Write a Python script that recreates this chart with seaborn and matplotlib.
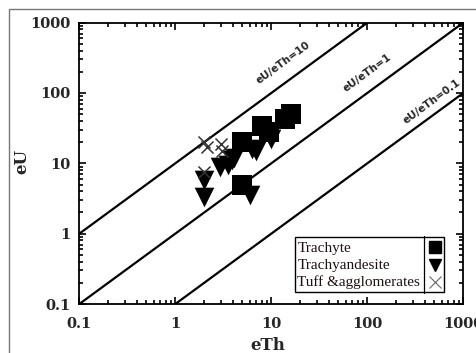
import numpy as np
import pandas as pd
import matplotlib
matplotlib.use("Agg")
import matplotlib.pyplot as plt
import seaborn as sns
from matplotlib.patches import Rectangle
from matplotlib.lines import Line2D

# ---- data ----
trachyte_th = [5.0, 5.0, 8.0, 9.5, 14.0, 16.0]
trachyte_u = [20.0, 4.9, 34.0, 28.0, 43.0, 50.0]

trachyand_th = [2.0, 2.0, 2.9, 3.5, 3.9, 4.1, 6.0, 6.3, 7.0, 10.0, 9.5]
trachyand_u = [5.8, 3.3, 9.0, 9.5, 11.0, 12.0, 3.6, 16.0, 15.0, 22.5, 26.0]

tuff_th = [2.0, 2.15, 3.0, 3.05, 2.0]
tuff_u = [20.0, 17.0, 19.0, 15.0, 7.5]

ratio_values = [10, 1, 0.1]
ratio_labels = ["eU/eTh=10", "eU/eTh=1", "eU/eTh=0.1"]
label_pos_th = [17.0, 125.0, 560.0]

legend_labels = ["Trachyte", "Trachyandesite", "Tuff &agglomerates"]

ticks = [0.1, 1, 10, 100, 1000]
tick_labels = ["0.1", "1", "10", "100", "1000"]

sns.set_theme(style="ticks")
plt.rcParams['font.family'] = ['DejaVu Serif', 'Liberation Serif']

fig = plt.figure(figsize=(4.76, 3.53), dpi=100)
ax = fig.add_axes([0.1666, 0.1388, 0.8067, 0.797])

df_t = pd.DataFrame({"eTh": trachyte_th, "eU": trachyte_u})
df_a = pd.DataFrame({"eTh": trachyand_th, "eU": trachyand_u})
df_x = pd.DataFrame({"eTh": tuff_th, "eU": tuff_u})

# reference lines
xx = np.array([0.1, 1000.0])
for r in ratio_values:
    ax.plot(xx, xx * r, color="black", lw=1.6, zorder=1)

sns.scatterplot(data=df_t, x="eTh", y="eU", marker="s", s=190, color="black",
                edgecolor="black", linewidth=0, ax=ax, zorder=3)
sns.scatterplot(data=df_a, x="eTh", y="eU", marker="v", s=200, color="black",
                edgecolor="black", linewidth=0, ax=ax, zorder=3)
sns.scatterplot(data=df_x, x="eTh", y="eU", marker="x", s=75, color="#333333",
                linewidth=1.1, ax=ax, zorder=4)

ax.set_xscale("log")
ax.set_yscale("log")
ax.set_xlim(0.1, 1000)
ax.set_ylim(0.1, 1000)

ax.set_xticks(ticks)
ax.set_xticklabels(tick_labels)
ax.set_yticks(ticks)
ax.set_yticklabels(tick_labels)
ax.tick_params(which="both", direction="in", top=True, right=True, width=1.2, color="black")
ax.tick_params(which="major", length=5, labelsize=10.5)
ax.tick_params(axis="x", which="major", pad=9)
ax.tick_params(axis="y", which="major", pad=6)
ax.tick_params(which="minor", length=3)
for lab in ax.get_xticklabels() + ax.get_yticklabels():
    lab.set_fontweight("bold")
for sp in ax.spines.values():
    sp.set_linewidth(1.3)
    sp.set_color("black")

ax.set_xlabel("eTh", fontsize=12, fontweight="bold")
ax.set_ylabel("eU", fontsize=12, fontweight="bold")
ax.xaxis.set_label_coords(0.49, -0.118)
ax.yaxis.set_label_coords(-0.128, 0.505)
ax.grid(False)

# rotated line labels
fig.canvas.draw()
p1 = ax.transData.transform((1, 1))
p2 = ax.transData.transform((10, 10))
angle = np.degrees(np.arctan2(p2[1] - p1[1], p2[0] - p1[0]))
offsets = [(-5, 7), (-5, 7), (-3, 4)]
for r, lab, xth, off in zip(ratio_values, ratio_labels, label_pos_th, offsets):
    ax.annotate(lab, xy=(xth, xth * r), xytext=off, textcoords="offset points",
                rotation=angle, rotation_mode="anchor", ha="center", va="bottom",
                fontsize=7.5, fontweight="bold", family=["DejaVu Sans"])

# legend box drawn manually (text left, markers right)
tr = ax.transAxes
ax.add_patch(Rectangle((0.561, 0.0416), 0.3895, 0.1954, transform=tr, fill=True,
                       facecolor="white", edgecolor="black", linewidth=1.0, zorder=5))
ax.add_line(Line2D([0.898, 0.898], [0.038, 0.241], transform=tr, color="black",
                   lw=0.9, zorder=6))
rows_y = [0.197, 0.138, 0.079]
for lab, yy in zip(legend_labels, rows_y):
    ax.text(0.5677, yy, lab, transform=tr, ha="left", va="center", fontsize=11,
            family=["Liberation Serif"], color="#201010", zorder=6)
ax.plot([0.926], [rows_y[0] + 0.005], transform=tr, marker="s", color="black",
        markersize=9, linestyle="none", zorder=6)
ax.plot([0.926], [rows_y[1]], transform=tr, marker="v", color="black",
        markersize=9, linestyle="none", zorder=6)
ax.plot([0.926], [rows_y[2]], transform=tr, marker="x", color="#666666",
        markersize=9, markeredgewidth=0.8, linestyle="none", zorder=6)

# outer frame
fig.patches.append(Rectangle((9 / 476, -0.1), 1.2, 0.1 + 1 - 9 / 353,
                             transform=fig.transFigure, fill=False,
                             edgecolor="#777777", linewidth=1.0))

fig.savefig("out.png", dpi=100)
